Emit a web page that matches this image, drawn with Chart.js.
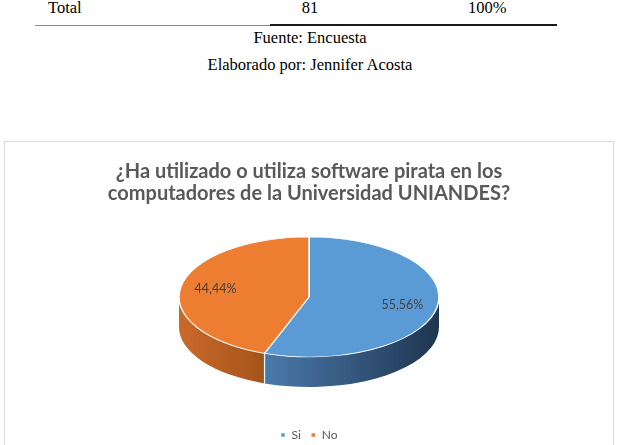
<!DOCTYPE html>
<html>
<head>
<meta charset="utf-8">
<script src="https://cdn.jsdelivr.net/npm/chart.js@4/dist/chart.umd.min.js"></script>
<style>
body { margin:0; background:#fff; width:623px; height:445px; overflow:hidden; position:relative; font-family:"Liberation Serif", "Times New Roman", serif; color:#000; }
.t { position:absolute; font-size:16.5px; line-height:20px; white-space:nowrap; }
.c { transform:translateX(-50%); }
#rule1 { position:absolute; left:35px; top:25px; width:235px; height:1px; background:#8a8a8a; }
#rule2 { position:absolute; left:270px; top:24px; width:287px; height:2px; background:#1a1a1a; }
#box { position:absolute; left:4px; top:141px; width:608px; height:320px; border:1px solid #d9d9d9; }
#box canvas { position:absolute; left:0; top:0; }
</style>
</head>
<body>
<div class="t" style="left:48px;top:-2px">Total</div>
<div class="t c" style="left:310px;top:-2px">81</div>
<div class="t" style="left:468px;top:-2px">100%</div>
<div id="rule1"></div><div id="rule2"></div>
<div class="t c" style="left:310px;top:28px">Fuente: Encuesta</div>
<div class="t c" style="left:310px;top:55px">Elaborado por: Jennifer Acosta</div>

<div id="box"><canvas id="chart" width="608" height="315"></canvas></div>

<script>
// survey answers (81 people)
let categories = ['Si', 'No'];
let counts = [45, 36];
let colors = ['#5b9bd5', '#ed7d31'];
let sideColors = [['#4a7aab', '#1f3550'], ['#c96a2a', '#a5531b']];
let titleLines = ['¿Ha utilizado o utiliza software pirata en los', 'computadores de la Universidad UNIANDES?'];

let tilt = 60 / 130;  // how flat the pie looks
let depth = 30;       // thickness of the side wall

function faceCentre(chart) {
    let arc = chart.getDatasetMeta(0).data[0];
    return { x: arc.x, y: arc.y - depth / 2, cy: arc.y, r: arc.outerRadius };
}

function pct(v) {
    let total = counts.reduce((a, b) => a + b, 0);
    return (v / total * 100).toFixed(2).replace('.', ',') + '%';
}

let pie3d = {
    id: 'pie3d',
    beforeDatasetsDraw(chart) {
        let ctx = chart.ctx;
        let arcs = chart.getDatasetMeta(0).data;
        let c = faceCentre(chart);
        let ry = c.r * tilt;

        // front side wall of every slice
        arcs.forEach((arc, i) => {
            let s = Math.max(arc.startAngle, 0);
            let e = Math.min(arc.endAngle, Math.PI);
            if (e <= s) return;
            let x1 = c.x + c.r * Math.cos(e), x2 = c.x + c.r * Math.cos(s);
            let g = ctx.createLinearGradient(Math.min(x1, x2), 0, Math.max(x1, x2), 0);
            g.addColorStop(0, sideColors[i][0]);
            g.addColorStop(1, sideColors[i][1]);
            ctx.beginPath();
            ctx.ellipse(c.x, c.y, c.r, ry, 0, s, e);
            ctx.ellipse(c.x, c.y + depth, c.r, ry, 0, e, s, true);
            ctx.closePath();
            ctx.fillStyle = g;
            ctx.fill();
        });

        // white seam where two slices meet on the wall
        arcs.forEach(arc => {
            let a = arc.endAngle % (Math.PI * 2);
            if (a <= 0 || a >= Math.PI) return;
            let x = c.x + c.r * Math.cos(a), y = c.y + ry * Math.sin(a);
            ctx.beginPath();
            ctx.moveTo(x, y);
            ctx.lineTo(x, y + depth);
            ctx.strokeStyle = '#fff';
            ctx.lineWidth = 1.2;
            ctx.stroke();
        });

        // squash the top face
        ctx.save();
        ctx.translate(c.x, c.y);
        ctx.scale(1, tilt);
        ctx.translate(-c.x, -c.cy);
    },
    afterDatasetsDraw(chart) {
        let ctx = chart.ctx;
        ctx.restore();
        let arcs = chart.getDatasetMeta(0).data;
        let c = faceCentre(chart);
        ctx.save();
        ctx.font = '12.5px Lato';
        ctx.fillStyle = '#404040';
        ctx.textAlign = 'center';
        ctx.textBaseline = 'middle';
        arcs.forEach((arc, i) => {
            let mid = (arc.startAngle + arc.endAngle) / 2;
            let x = c.x + Math.cos(mid) * c.r * 0.73;
            let y = c.y + Math.sin(mid) * c.r * tilt * 0.73;
            ctx.fillText(pct(counts[i]), x, y);
        });
        ctx.restore();
    }
};

let chart = new Chart(document.getElementById('chart'), {
    type: 'pie',
    data: {
        labels: categories,
        datasets: [{
            data: counts,
            backgroundColor: colors,
            borderColor: '#ffffff',
            borderWidth: 1.5
        }]
    },
    options: {
        responsive: false,
        animation: false,
        radius: 130,
        layout: { padding: { bottom: 6 } },
        plugins: {
            title: {
                display: true,
                text: titleLines,
                color: '#595959',
                font: { family: 'Lato', size: 20, weight: 'bold', lineHeight: 1.1 },
                padding: { top: 19, bottom: 0 }
            },
            legend: {
                position: 'bottom',
                labels: {
                    boxWidth: 5,
                    boxHeight: 5,
                    color: '#595959',
                    font: { family: 'Lato', size: 12 },
                    padding: 10
                }
            },
            tooltip: { enabled: false }
        }
    },
    plugins: [pie3d]
});
</script>
</body>
</html>
